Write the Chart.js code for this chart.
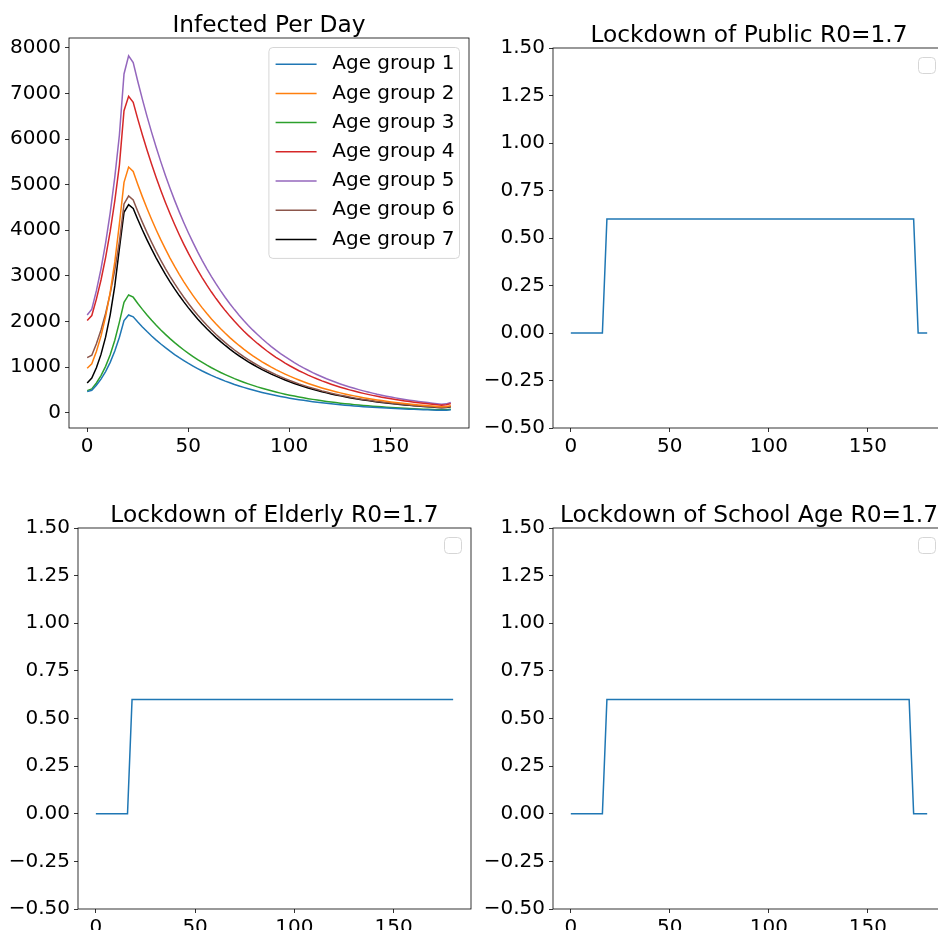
<!DOCTYPE html>
<html><head><meta charset="utf-8">
<script src="https://cdn.jsdelivr.net/npm/chart.js@4.4.0/dist/chart.umd.min.js"></script>
<style>
html,body{margin:0;padding:0;background:#fff;width:938px;height:930px;overflow:hidden;position:relative}
canvas{position:absolute}
</style></head><body>
<canvas id="c1"></canvas><canvas id="c2"></canvas><canvas id="c3"></canvas><canvas id="c4"></canvas>
<script>
// ---------- data ----------
const days = [0,2.28,4.56,6.84,9.11,11.39,13.67,15.95,18.23,20.51,22.78,25.06,27.34,29.62,31.90,34.18,36.46,38.73,41.01,43.29,45.57,47.85,50.13,52.41,54.68,56.96,59.24,61.52,63.80,66.08,68.35,70.63,72.91,75.19,77.47,79.75,82.03,84.30,86.58,88.86,91.14,93.42,95.70,97.97,100.25,102.53,104.81,107.09,109.37,111.65,113.92,116.20,118.48,120.76,123.04,125.32,127.59,129.87,132.15,134.43,136.71,138.99,141.27,143.54,145.82,148.10,150.38,152.66,154.94,157.22,159.49,161.77,164.05,166.33,168.61,170.89,173.16,175.44,177.72,180];

const groupLabels = ['Age group 1','Age group 2','Age group 3','Age group 4','Age group 5','Age group 6','Age group 7'];
const groupColors = ['#1f77b4','#ff7f0e','#2ca02c','#d62728','#9467bd','#8c564b','#000000'];

const group1 = [460,490,600,735,900,1103,1351,1654,2018,2142,
2101,1987,1880,1778,1682,1591,1505,1424,1347,1274,1205,1140,1078,1020,965,912,863,816,772,731,691,654,618,585,553,523,495,468,443,419,396,375,355,336,317,300,284,269,254,240,227,215,203,192,182,172,163,154,146,138,130,123,117,110,104,99,93,88,84,79,75,71,67,63,60,57,54,51,53,61];
const group2 = [972,1070,1341,1680,2105,2638,3305,4141,5052,5388,
5290,5004,4733,4477,4235,4006,3789,3585,3390,3207,3034,2870,2714,2568,2429,2297,2173,2056,1945,1839,1740,1646,1557,1473,1393,1318,1246,1179,1115,1055,998,944,893,845,799,756,715,676,640,605,572,541,512,485,458,433,410,388,367,347,328,311,294,278,263,249,235,223,211,199,188,178,169,159,151,143,135,127,132,152];
const group3 = [483,520,650,812,1015,1269,1587,1984,2420,2581,
2532,2395,2265,2143,2027,1917,1814,1716,1623,1535,1452,1374,1299,1229,1162,1100,1040,984,931,880,833,788,745,705,667,631,597,564,534,505,478,452,427,404,382,362,342,324,306,290,274,259,245,232,219,207,196,186,175,166,157,149,141,133,126,119,113,107,101,95,90,85,81,76,72,68,65,61,63,73];
const group4 = [2018,2130,2490,2910,3401,3975,4646,5430,6624,6938,
6806,6438,6089,5760,5449,5154,4875,4612,4362,4126,3903,3692,3492,3304,3125,2956,2796,2645,2502,2366,2238,2117,2003,1895,1792,1695,1603,1517,1435,1357,1284,1214,1149,1087,1028,973,919,870,823,779,736,696,659,623,589,557,527,499,472,446,422,400,378,357,338,320,303,287,271,256,242,229,217,205,194,184,174,164,171,197];
const group5 = [2142,2270,2676,3154,3718,4383,5167,6090,7430,7830,
7680,7264,6871,6500,6148,5816,5501,5204,4922,4656,4404,4166,3941,3728,3526,3335,3155,2984,2823,2670,2526,2389,2260,2138,2022,1913,1809,1712,1619,1532,1449,1370,1296,1226,1160,1097,1038,982,929,878,831,786,743,703,665,629,595,563,533,504,477,451,427,403,382,361,341,323,305,289,273,259,245,231,219,207,196,185,192,222];
const group6 = [1206,1260,1511,1813,2175,2609,3129,3752,4577,4752,
4665,4413,4174,3948,3735,3533,3342,3161,2990,2828,2675,2531,2394,2264,2142,2026,1916,1813,1715,1622,1534,1451,1373,1299,1228,1162,1099,1040,983,930,880,832,787,745,704,667,630,596,564,534,505,477,452,427,404,382,362,342,323,306,289,274,259,245,232,219,208,196,186,175,166,157,149,140,133,126,119,112,117,134];
const group7 = [651,760,985,1277,1655,2145,2780,3602,4394,4562,
4478,4236,4006,3790,3585,3391,3208,3034,2870,2715,2568,2429,2298,2174,2056,1945,1840,1740,1646,1557,1473,1393,1318,1247,1179,1115,1055,998,944,893,845,799,756,715,676,640,605,572,541,512,485,458,433,410,388,367,347,328,310,294,278,263,249,235,223,210,199,189,178,168,159,151,143,135,128,121,114,108,112,130];

const lockPublic = [0,0,0,0,0,0,0,0,
0.6,0.6,0.6,0.6,0.6,0.6,0.6,0.6,0.6,0.6,
0.6,0.6,0.6,0.6,0.6,0.6,0.6,0.6,0.6,0.6,
0.6,0.6,0.6,0.6,0.6,0.6,0.6,0.6,0.6,0.6,
0.6,0.6,0.6,0.6,0.6,0.6,0.6,0.6,0.6,0.6,
0.6,0.6,0.6,0.6,0.6,0.6,0.6,0.6,0.6,0.6,
0.6,0.6,0.6,0.6,0.6,0.6,0.6,0.6,0.6,0.6,
0.6,0.6,0.6,0.6,0.6,0.6,0.6,0.6,0.6,
0,0,0];
const lockElderly = [0,0,0,0,0,0,0,0,
0.6,0.6,0.6,0.6,0.6,0.6,0.6,0.6,0.6,0.6,
0.6,0.6,0.6,0.6,0.6,0.6,0.6,0.6,0.6,0.6,
0.6,0.6,0.6,0.6,0.6,0.6,0.6,0.6,0.6,0.6,
0.6,0.6,0.6,0.6,0.6,0.6,0.6,0.6,0.6,0.6,
0.6,0.6,0.6,0.6,0.6,0.6,0.6,0.6,0.6,0.6,
0.6,0.6,0.6,0.6,0.6,0.6,0.6,0.6,0.6,0.6,
0.6,0.6,0.6,0.6,0.6,0.6,0.6,0.6,0.6,0.6,
0.6,0.6];
const lockSchool = [0,0,0,0,0,0,0,0,
0.6,0.6,0.6,0.6,0.6,0.6,0.6,0.6,0.6,0.6,
0.6,0.6,0.6,0.6,0.6,0.6,0.6,0.6,0.6,0.6,
0.6,0.6,0.6,0.6,0.6,0.6,0.6,0.6,0.6,0.6,
0.6,0.6,0.6,0.6,0.6,0.6,0.6,0.6,0.6,0.6,
0.6,0.6,0.6,0.6,0.6,0.6,0.6,0.6,0.6,0.6,
0.6,0.6,0.6,0.6,0.6,0.6,0.6,0.6,0.6,0.6,
0.6,0.6,0.6,0.6,0.6,0.6,0.6,0.6,
0,0,0,0];

const titles = ['Infected Per Day','Lockdown of Public R0=1.7','Lockdown of Elderly R0=1.7','Lockdown of School Age R0=1.7'];
const xTicks = [0,50,100,150];
const infectedTicks = [0,1000,2000,3000,4000,5000,6000,7000,8000];
const lockTicks = [-0.5,-0.25,0,0.25,0.5,0.75,1,1.25,1.5];

// ---------- layout (frame boxes in page px) ----------
const FONT = '"DejaVu Sans", sans-serif';
const TICK_SIZE = 20, TITLE_SIZE = 23.3, LEGEND_SIZE = 20;
const Y_W = 72, X_H = 40, TITLE_H = 34, RIGHT_PAD = 12;
const frames = [
  {l:69, t:38, r:469, b:428},
  {l:553, t:48, r:945, b:428},
  {l:78, t:528, r:471, b:909},
  {l:553, t:528, r:945, b:909}
];

// ---------- plugins ----------
function rr(ctx,x,y,w,h,r){ctx.beginPath();ctx.moveTo(x+r,y);ctx.lineTo(x+w-r,y);ctx.arcTo(x+w,y,x+w,y+r,r);ctx.lineTo(x+w,y+h-r);ctx.arcTo(x+w,y+h,x+w-r,y+h,r);ctx.lineTo(x+r,y+h);ctx.arcTo(x,y+h,x,y+h-r,r);ctx.lineTo(x,y+r);ctx.arcTo(x,y,x+r,y,r);ctx.closePath();}
const framePlugin = {
  id:'frame',
  afterDatasetsDraw(chart){
    const {ctx, chartArea:a} = chart;
    ctx.save(); ctx.strokeStyle='#000'; ctx.lineWidth=0.8;
    ctx.strokeRect(a.left, a.top, a.right-a.left, a.bottom-a.top); ctx.restore();
  }
};
const boxLegend = {
  id:'boxLegend',
  afterDraw(chart, args, o){
    const {ctx, chartArea:a} = chart;
    const items = chart.data.datasets.filter(d=>d.label);
    ctx.save();
    ctx.font = LEGEND_SIZE + 'px ' + FONT;
    let w, h;
    if(items.length){
      const tw = Math.max(...items.map(d=>ctx.measureText(d.label).width));
      w = o.padL + o.handle + o.gap + tw + o.padR;
      h = o.padT + o.rowH*(items.length-1) + o.padB;
    } else { w = 17; h = 16; }
    const x = a.right - o.inset - w, y = a.top + o.inset;
    rr(ctx, x, y, w, h, 4);
    ctx.fillStyle='rgba(255,255,255,0.8)'; ctx.fill();
    ctx.strokeStyle='#d6d6d6'; ctx.lineWidth=1; ctx.stroke();
    items.forEach((d,i)=>{
      const cy = y + o.padT + i*o.rowH;
      ctx.strokeStyle=d.borderColor; ctx.lineWidth=d.borderWidth;
      ctx.beginPath(); ctx.moveTo(x+o.padL, cy); ctx.lineTo(x+o.padL+o.handle, cy); ctx.stroke();
      ctx.fillStyle='#000'; ctx.textBaseline='middle'; ctx.textAlign='left';
      ctx.fillText(d.label, x+o.padL+o.handle+o.gap, cy);
    });
    ctx.restore();
  }
};

function fmtMinus(s){return s.replace('-', '\u2212');}

function makeChart(id, idx, datasets, yMin, yMax, yTicks, yFmt){
  const f = frames[idx];
  const cv = document.getElementById(id);
  const W = Y_W + (f.r-f.l) + RIGHT_PAD, H = TITLE_H + (f.b-f.t) + X_H;
  cv.width = W; cv.height = H;
  cv.style.width = W+'px'; cv.style.height = H+'px';
  cv.style.left = (f.l - Y_W)+'px'; cv.style.top = (f.t - TITLE_H)+'px';
  const x0 = days[0], x1 = days[days.length-1], xm = (x1-x0)*0.05;
  return new Chart(cv, {
    type:'line',
    data:{datasets},
    plugins:[framePlugin, boxLegend],
    options:{
      responsive:false, animation:false, devicePixelRatio:1,
      layout:{padding:{left:0,right:RIGHT_PAD,top:0,bottom:0}},
      elements:{point:{radius:0}, line:{tension:0}},
      plugins:{
        legend:{display:false}, tooltip:{enabled:false},
        title:{display:true, text:titles[idx], fullSize:false, color:'#000',
          font:{family:FONT, size:TITLE_SIZE, weight:'normal', lineHeight:'24px'}, padding:{top:10,bottom:0}},
        boxLegend:{inset:9.5, padL:6.7, handle:41, gap:15.7, padR:5, padT:16.7, padB:19, rowH:29.2}
      },
      scales:{
        x:{type:'linear', min:x0-xm, max:x1+xm,
          afterBuildTicks:s=>{s.ticks = xTicks.map(v=>({value:v}));},
          afterFit:s=>{s.height = X_H;},
          grid:{drawOnChartArea:false, drawTicks:true, tickLength:4, color:'#000', lineWidth:0.8},
          border:{display:false},
          ticks:{autoSkip:false, maxRotation:0, padding:3, color:'#000', font:{family:FONT,size:TICK_SIZE}, callback:v=>String(v)}
        },
        y:{type:'linear', min:yMin, max:yMax,
          afterBuildTicks:s=>{s.ticks = yTicks.map(v=>({value:v}));},
          afterFit:s=>{s.width = Y_W;},
          grid:{drawOnChartArea:false, drawTicks:true, tickLength:4, color:'#000', lineWidth:0.8},
          border:{display:false},
          ticks:{autoSkip:false, padding:4, color:'#000', font:{family:FONT,size:TICK_SIZE}, callback:yFmt}
        }
      }
    }
  });
}

const groups = [group1,group2,group3,group4,group5,group6,group7];
const infDatasets = groups.map((g,i)=>({
  label:groupLabels[i], data:g.map((v,j)=>({x:days[j], y:v})),
  borderColor:groupColors[i], backgroundColor:groupColors[i], borderWidth:1.5, fill:false
}));
const allVals = groups.flat();
const dMin = Math.min(...allVals), dMax = Math.max(...allVals), dm = (dMax-dMin)*0.05;
makeChart('c1', 0, infDatasets, dMin-dm, dMax+dm, infectedTicks, v=>String(v));

const lockFmt = v=>fmtMinus(Number(v).toFixed(2));
function lockDs(arr){return [{data:arr.map((v,j)=>({x:days[j], y:v})), borderColor:'#1f77b4', borderWidth:1.5, fill:false}];}
makeChart('c2', 1, lockDs(lockPublic), -0.5, 1.5, lockTicks, lockFmt);
makeChart('c3', 2, lockDs(lockElderly), -0.5, 1.5, lockTicks, lockFmt);
makeChart('c4', 3, lockDs(lockSchool), -0.5, 1.5, lockTicks, lockFmt);
</script>
</body></html>
